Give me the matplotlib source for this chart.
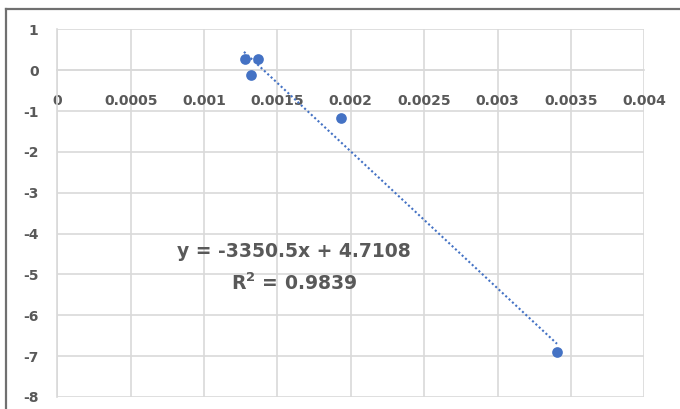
import matplotlib
matplotlib.use("Agg")
import matplotlib.pyplot as plt
from matplotlib.lines import Line2D
import numpy as np

# Data
x_vals = [0.001279, 0.001368, 0.001320, 0.001933, 0.003405]
y_vals = [0.27, 0.27, -0.12, -1.17, -6.91]

slope = -3350.5
intercept = 4.7108
r2 = 0.9839

x_ticks = [0, 0.0005, 0.001, 0.0015, 0.002, 0.0025, 0.003, 0.0035, 0.004]
x_tick_labels = ["0", "0.0005", "0.001", "0.0015", "0.002", "0.0025", "0.003", "0.0035", "0.004"]
y_ticks = [1, 0, -1, -2, -3, -4, -5, -6, -7, -8]
y_tick_labels = ["1", "0", "-1", "-2", "-3", "-4", "-5", "-6", "-7", "-8"]

blue = "#4472C4"
grid_c = "#d9d9d9"
text_c = "#595959"

W, H = 680, 409
fig = plt.figure(figsize=(W / 100, H / 100), dpi=100)
fig.patch.set_facecolor("white")

left_px, right_px, top_px, bot_px = 57.3, 644.3, 29.3, 397.0
ax = fig.add_axes([left_px / W, 1 - bot_px / H, (right_px - left_px) / W, (bot_px - top_px) / H])
ax.set_xlim(0, 0.004)
ax.set_ylim(-8, 1)

for s in ["top", "right"]:
    ax.spines[s].set_visible(False)
ax.spines["bottom"].set_position(("data", 0))
ax.spines["bottom"].set_color(grid_c)
ax.spines["bottom"].set_linewidth(1.2)
ax.spines["left"].set_color(grid_c)
ax.spines["left"].set_linewidth(1.2)

ax.set_xticks(x_ticks)
ax.set_xticklabels(x_tick_labels, fontweight="bold", fontsize=10, color=text_c)
ax.set_yticks(y_ticks)
ax.set_yticklabels(y_tick_labels, fontweight="bold", fontsize=10, color=text_c)
ax.tick_params(axis="x", length=0, pad=17)
ax.tick_params(axis="y", length=0, pad=13.5)

ax.grid(True, color=grid_c, linewidth=1.2)
ax.set_axisbelow(True)

# Trendline over data range
xt = np.array([min(x_vals) - 0.000007, max(x_vals)])
yt = slope * xt + intercept
ax.plot(xt, yt, color=blue, linewidth=1.5, linestyle=(0, (1, 1.2)), zorder=3)

ax.plot(x_vals, y_vals, "o", color=blue, markersize=7.7, markeredgewidth=0, zorder=4)

ax.text(0.001615, -4.43, "y = -3350.5x + 4.7108", ha="center", va="center",
        fontsize=13.5, fontweight="bold", color=text_c)
ax.text(0.001615, -5.22, "R$^{\\mathbf{2}}$ = 0.9839", ha="center", va="center",
        fontsize=13.5, fontweight="bold", color=text_c)

# Outer frame (screenshot border)
fx = 5.7 / W
fy = 1 - 8.5 / H
fig.add_artist(Line2D([fx, fx], [0, fy], transform=fig.transFigure, color="#707070", linewidth=1.6))
fig.add_artist(Line2D([fx, 1], [fy, fy], transform=fig.transFigure, color="#707070", linewidth=1.6))

fig.savefig("out.png", dpi=100)
